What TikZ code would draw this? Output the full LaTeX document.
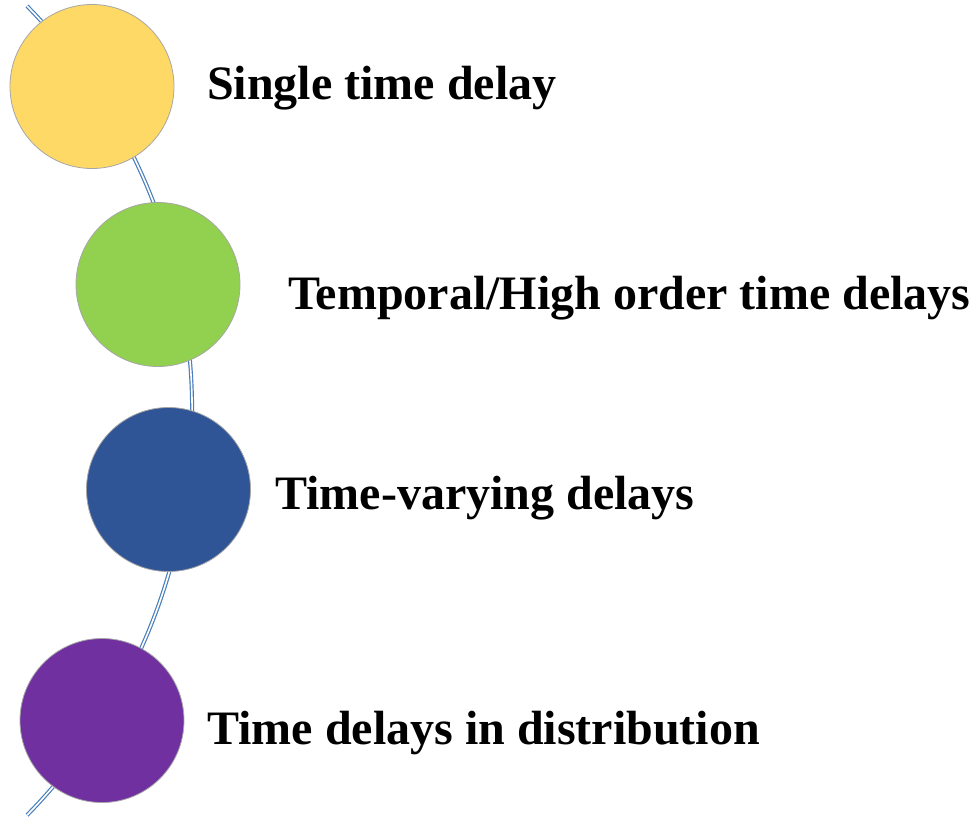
\documentclass[tikz,border=0pt]{standalone}
\usepackage{fontspec}
\setmainfont{Liberation Serif}
\usepackage{tikz}
\usetikzlibrary{positioning}
\definecolor{rim}{HTML}{A6A6A6}
\definecolor{spineblue}{HTML}{4A7EBB}
\definecolor{sun}{HTML}{FFD966}
\definecolor{leaf}{HTML}{92D050}
\definecolor{navy}{HTML}{2F5597}
\definecolor{plum}{HTML}{7030A0}
\tikzset{
  ball/.style  = {circle, draw=rim, line width=0.6pt, minimum size=123pt, inner sep=0pt},
  lbl/.style   = {anchor=base west, inner sep=0pt, text=black,
                  font=\fontsize{36}{40}\selectfont\bfseries},
  spine/.style = {draw=spineblue, double=white, line width=0.9pt, double distance=1.2pt},
}
\begin{document}
\begin{tikzpicture}[x=0.75pt,y=-0.75pt]
  \useasboundingbox (0,0) rectangle (974,818);
  % curved spine behind the circles
  \coordinate (top) at (27,6);
  \draw[spine] (top) arc[start angle=-44.4, end angle=44.4, radius=578.3];
  % circles
  \node[ball,fill=sun]  (c1) at (92,86.5)   {};
  \node[ball,fill=leaf] (c2) at (158,284.5) {};
  \node[ball,fill=navy] (c3) at (168.5,489.5) {};
  \node[ball,fill=plum] (c4) at (102,720.5) {};
  % labels
  \node[lbl] (t1) at (207,99)  {Single time delay};
  \node[lbl] (t2) at (288,309) {Temporal/High order time delays};
  \node[lbl] (t3) at (275,509) {Time-varying delays};
  \node[lbl] (t4) at (207,744) {Time delays in distribution};
\end{tikzpicture}
\end{document}
